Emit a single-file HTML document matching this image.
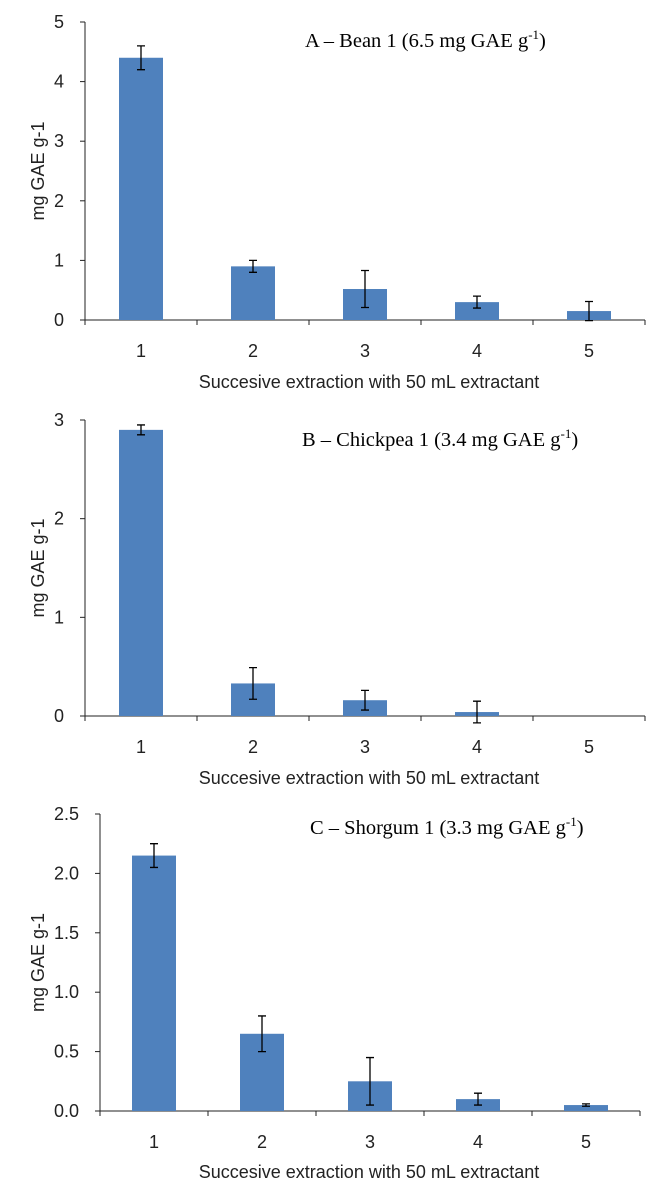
<!DOCTYPE html>
<html><head><meta charset="utf-8"><style>
body{margin:0;background:#fff}
svg{display:block}
</style></head><body>
<svg id="c" width="658" height="1196" xmlns="http://www.w3.org/2000/svg" font-family="Liberation Sans, sans-serif"></svg>
<script>
const categories=["1","2","3","4","5"];
const valuesA=[4.4,0.9,0.52,0.3,0.15];
const errorsA=[0.2,0.1,0.31,0.1,0.16];
const valuesB=[2.9,0.33,0.16,0.04,0];
const errorsB=[0.05,0.16,0.1,0.11,0];
const valuesC=[2.15,0.65,0.25,0.1,0.05];
const errorsC=[0.1,0.15,0.2,0.05,0.01];
const ticksA=[0,1,2,3,4,5];
const ticksB=[0,1,2,3];
const ticksC=[0,0.5,1,1.5,2,2.5];
const ns="http://www.w3.org/2000/svg";
const svg=document.getElementById('c');
function mk(tag,attrs,parent){const e=document.createElementNS(ns,tag);for(const k in attrs)e.setAttribute(k,attrs[k]);(parent||svg).appendChild(e);return e;}
function panel(id,vals,errs,ticks,max,y0,y1,x0,x1,xlabY,titleY,titlePre,titleVal,titleX,decimals){
  const g=mk('g',{});
  
  
  const band=(x1-x0)/categories.length;
  const ys=v=>y0-(v/max)*(y0-y1);
  const xs=i=>x0+band*(i+0.5);
  ticks.forEach(t=>{
    const tl=mk('text',{x:x0-21,y:ys(t)+6,'text-anchor':'end','font-size':18,fill:'#222'},g);
    tl.textContent=decimals?t.toFixed(1):t;
    
    
    mk('line',{x1:x0-5,x2:x0,y1:ys(t),y2:ys(t),stroke:'#222'},g);
  });
  mk('line',{x1:x0,x2:x0,y1:y1,y2:y0,stroke:'#222'},g);
  mk('line',{x1:x0,x2:x1,y1:y0,y2:y0,stroke:'#222'},g);
  for(let i=0;i<=categories.length;i++)mk('line',{x1:x0+band*i,x2:x0+band*i,y1:y0,y2:y0+5,stroke:'#222'},g);
  vals.forEach((v,i)=>{
    const b=mk('rect',{x:xs(i)-22,y:ys(v),width:44,height:y0-ys(v),fill:'#4f81bd'},g);
    
    
    if(errs[i]>0){
      const e=mk('path',{d:`M${xs(i)},${ys(v-errs[i])}V${ys(v+errs[i])}M${xs(i)-4},${ys(v-errs[i])}h8M${xs(i)-4},${ys(v+errs[i])}h8`,stroke:'#000','stroke-width':1.3,fill:'none'},g);
      
      
    }
    const xl=mk('text',{x:xs(i),y:y0+37,'text-anchor':'middle','font-size':18,fill:'#222'},g);
    xl.textContent=categories[i];
    
    
  });
  const xt=mk('text',{x:369,y:xlabY,'text-anchor':'middle','font-size':18,fill:'#222'},g);
  xt.textContent='Succesive extraction with 50 mL extractant';
  
  
  const cy=(y0+y1)/2;
  const yt=mk('text',{x:44,y:cy,'text-anchor':'middle','font-size':18,fill:'#222',transform:`rotate(-90 44 ${cy})`},g);
  yt.textContent='mg GAE g-1';
  
  
  const tt=mk('text',{x:titleX,y:titleY,'font-size':20.5,fill:'#000','font-family':'Liberation Serif, serif'},g);
  
  
  tt.appendChild(document.createTextNode(titlePre+' ('+titleVal+' mg GAE g'));
  const sp=mk('tspan',{dy:-8,'font-size':13},tt);sp.textContent='-1';
  const sp2=mk('tspan',{dy:8},tt);sp2.textContent=')';
}
panel('a',valuesA,errorsA,ticksA,5,320,22,85,645,388,47,'A – Bean 1','6.5',305,false);
panel('b',valuesB,errorsB,ticksB,3,716,420,85,645,784,446,'B – Chickpea 1','3.4',302,false);
panel('c',valuesC,errorsC,ticksC,2.5,1111,814,100,640,1178,834,'C – Shorgum 1','3.3',310,true);
</script>
</body></html>
